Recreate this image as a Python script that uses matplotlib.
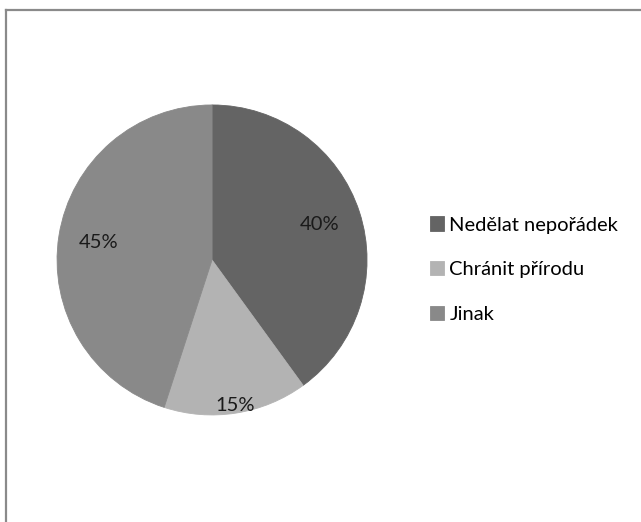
import numpy as np
import matplotlib
matplotlib.use('Agg')
import matplotlib.pyplot as plt
from matplotlib.lines import Line2D

labels = ['Nedělat nepořádek', 'Chránit přírodu', 'Jinak']
shares = [40, 15, 45]
colors = ['#646464', '#b3b3b3', '#898989']
# label radius (fraction of r) for each slice
label_r = [0.73, 0.95, 0.74]

plt.rcParams['font.family'] = ['Lato', 'DejaVu Sans']

fig = plt.figure(figsize=(6.41, 5.22), dpi=100)
ax = fig.add_axes([0.089, 0.205, 0.4836, 0.594])

wedges, _ = ax.pie(shares, colors=colors, startangle=90, counterclock=False,
                   radius=1, wedgeprops=dict(linewidth=0.6))
for w in wedges:
    w.set_edgecolor(w.get_facecolor())  # hide the white anti-alias seams
for w, v, r in zip(wedges, shares, label_r):
    mid = np.deg2rad((w.theta1 + w.theta2) / 2)
    ax.text(r * np.cos(mid), r * np.sin(mid), f'{v}%', ha='center', va='center',
            fontsize=14.5, color='#1a1a1a')
ax.set_xlim(-1, 1)
ax.set_ylim(-1, 1)
ax.set_aspect('equal')

fig.legend(wedges, labels, loc='center left', bbox_to_anchor=(0.671, 0.483),
           frameon=False, fontsize=14.5, handlelength=0.7, handleheight=0.7,
           handletextpad=0.25, labelspacing=1.38, borderaxespad=0, borderpad=0)

# frame edges (top and left visible)
fig.add_artist(Line2D([6 / 641, 1], [1 - 10 / 522, 1 - 10 / 522],
                      transform=fig.transFigure, color='#8a8a8a', linewidth=1.6))
fig.add_artist(Line2D([6 / 641, 6 / 641], [0, 1 - 10 / 522],
                      transform=fig.transFigure, color='#8a8a8a', linewidth=1.6))

fig.savefig('out.png', dpi=100)
